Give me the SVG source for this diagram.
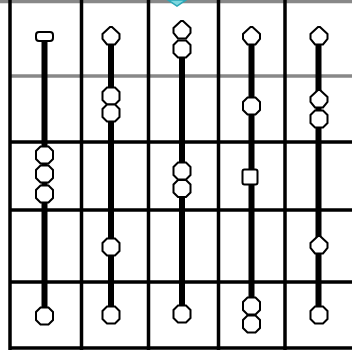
<svg xmlns="http://www.w3.org/2000/svg" width="352" height="350" viewBox="0 0 352 350">
<style>
.g{stroke:#000;stroke-width:3.5;fill:none}
.gg{stroke:#888;stroke-width:3.5;fill:none}
.bar{stroke:#000;stroke-width:6;fill:none}
.n{fill:#fff;stroke:#000;stroke-width:2}
</style>
<defs>
<polygon id="oct" points="-4,-8.5 4,-8.5 8.5,-4 8.5,4 4,8.5 -4,8.5 -8.5,4 -8.5,-4"/>
<polygon id="dia" points="-1,-9 1,-9 8.5,-2 8.5,3 4,8.5 -4,8.5 -8.5,3 -8.5,-2"/>
<rect id="flat" x="-8.5" y="-4.5" width="17" height="9" rx="3"/>
<rect id="sq" x="-7.5" y="-7.5" width="15" height="15" rx="2"/>
</defs>
<rect width="352" height="350" fill="#fff"/>
<g id="grid">
<line class="gg" x1="0" y1="1.5" x2="352" y2="1.5"/>
<line class="gg" x1="10" y1="76" x2="352" y2="76"/>
<line class="g" x1="10" y1="142" x2="352" y2="142"/>
<line class="g" x1="10" y1="210" x2="352" y2="210"/>
<line class="g" x1="10" y1="282" x2="352" y2="282"/>
<line class="g" x1="10" y1="348" x2="352" y2="348"/>
<line class="g" x1="10" y1="0" x2="10" y2="350"/>
<line class="g" x1="81.5" y1="0" x2="81.5" y2="350"/>
<line class="g" x1="148.5" y1="0" x2="148.5" y2="350"/>
<line class="g" x1="218.5" y1="0" x2="218.5" y2="350"/>
<line class="g" x1="285" y1="0" x2="285" y2="350"/>
<polygon points="168,0 186,0 177,6" fill="#7fd8e0" stroke="#2aa8b8" stroke-width="1.5"/>
</g>
<g id="connectors">
<line class="bar" x1="44.5" y1="40" x2="44.5" y2="308"/>
<line class="bar" x1="111" y1="44" x2="111" y2="307"/>
<line class="bar" x1="182" y1="57" x2="182" y2="306"/>
<line class="bar" x1="251.5" y1="44" x2="251.5" y2="299"/>
<line class="bar" x1="318.5" y1="44" x2="318.5" y2="307"/>
</g>
<g id="c1n1"><use href="#flat" class="n" x="44.5" y="36.5"/></g>
<g id="c1n2"><use href="#oct" class="n" x="44.5" y="155"/></g>
<g id="c1n3"><use href="#oct" class="n" x="44.5" y="174"/></g>
<g id="c1n4"><use href="#oct" class="n" x="44.5" y="194"/></g>
<g id="c1n5"><use href="#oct" class="n" x="44.5" y="316"/></g>
<g id="c2n1"><use href="#dia" class="n" x="111" y="36"/></g>
<g id="c2n2"><use href="#oct" class="n" x="111" y="96"/></g>
<g id="c2n3"><use href="#oct" class="n" x="111" y="113"/></g>
<g id="c2n4"><use href="#oct" class="n" x="111" y="247"/></g>
<g id="c2n5"><use href="#oct" class="n" x="111" y="315"/></g>
<g id="c3n1"><use href="#dia" class="n" x="182" y="30"/></g>
<g id="c3n2"><use href="#oct" class="n" x="182" y="49"/></g>
<g id="c3n3"><use href="#oct" class="n" x="182" y="171"/></g>
<g id="c3n4"><use href="#oct" class="n" x="182" y="188.5"/></g>
<g id="c3n5"><use href="#oct" class="n" x="182" y="314"/></g>
<g id="c4n1"><use href="#dia" class="n" x="251.5" y="36"/></g>
<g id="c4n2"><use href="#oct" class="n" x="251.5" y="106"/></g>
<g id="c4n3"><use href="#sq" class="n" x="250" y="177"/></g>
<g id="c4n4"><use href="#oct" class="n" x="251.5" y="306"/></g>
<g id="c4n5"><use href="#oct" class="n" x="251.5" y="324"/></g>
<g id="c5n1"><use href="#dia" class="n" x="319" y="36"/></g>
<g id="c5n2"><use href="#dia" class="n" x="319" y="99"/></g>
<g id="c5n3"><use href="#oct" class="n" x="319" y="119"/></g>
<g id="c5n4"><use href="#dia" class="n" x="319" y="245"/></g>
<g id="c5n5"><use href="#oct" class="n" x="319" y="315"/></g>
</svg>
